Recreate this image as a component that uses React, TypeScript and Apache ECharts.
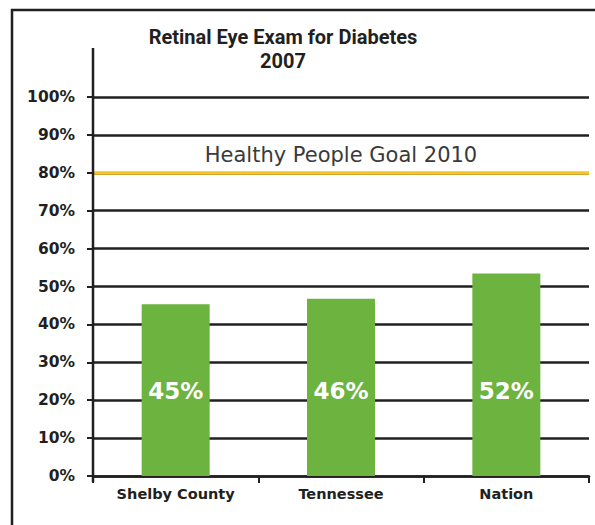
import React, { useEffect, useRef } from "react";
import * as echarts from "echarts";

const chartTitle = "Retinal Eye Exam for Diabetes";
const chartSubtitle = "2007";
const categories = ["Shelby County", "Tennessee", "Nation"];
const barValues = [45.3, 46.8, 53.4];
const barLabels = ["45%", "46%", "52%"];
const goalValue = 80;
const goalLabel = "Healthy People Goal 2010";
const yMin = 0;
const yMax = 100;
const yInterval = 10;

export default function App() {
  const ref = useRef<HTMLDivElement>(null);
  useEffect(() => {
    if (!ref.current) return;
    const chart = echarts.init(ref.current, null, { renderer: "svg" });
    const dark = "#231f20";
    chart.setOption({
      animation: false,
      backgroundColor: "#ffffff",
      grid: { left: 93, right: 6, top: 97, bottom: 49, containLabel: false },
      graphic: [
        {
          type: "rect",
          shape: { x: 12, y: 10, width: 640, height: 640 },
          style: { fill: "none", stroke: dark, lineWidth: 2.5 },
          z: 10,
        },
        {
          type: "line",
          shape: { x1: 93, y1: 48, x2: 93, y2: 482 },
          style: { stroke: dark, lineWidth: 2.5 },
          z: 10,
        },
        {
          type: "text",
          x: 283,
          y: 25,
          style: {
            text: chartTitle + "\n" + chartSubtitle,
            fontFamily: "Roboto, sans-serif",
            fontWeight: "bold",
            fontSize: 20,
            lineHeight: 24,
            fill: dark,
            align: "center",
            verticalAlign: "top",
          },
        },
      ],
      xAxis: {
        type: "category",
        data: categories,
        axisLine: { show: true, lineStyle: { color: dark, width: 2.5 } },
        axisTick: { show: true, interval: 0, length: 7, lineStyle: { color: dark, width: 2 } },
        axisLabel: {
          interval: 0,
          margin: 10,
          color: dark,
          fontFamily: "'DejaVu Sans', sans-serif",
          fontWeight: "bold",
          fontSize: 14.5,
        },
        splitLine: { show: false },
      },
      yAxis: {
        type: "value",
        min: yMin,
        max: yMax,
        interval: yInterval,
        axisLine: { show: false },
        axisTick: { show: true, length: 6, lineStyle: { color: dark, width: 2 } },
        axisLabel: {
          margin: 18,
          formatter: "{value}%",
          color: dark,
          fontFamily: "'DejaVu Sans', sans-serif",
          fontWeight: "bold",
          fontSize: 15.5,
        },
        splitLine: { show: true, lineStyle: { color: dark, width: 2.5 } },
      },
      series: [
        {
          type: "bar",
          data: barValues,
          barWidth: 68,
          itemStyle: { color: "#6db33f" },
          z: 3,
          label: {
            show: true,
            position: "insideBottom",
            distance: 74,
            formatter: (p: any) => barLabels[p.dataIndex],
            color: "#ffffff",
            fontFamily: "'DejaVu Sans', sans-serif",
            fontWeight: "bold",
            fontSize: 23,
          },
          markLine: {
            silent: true,
            symbol: "none",
            lineStyle: { color: "#f7c325", width: 3.5, type: "solid" },
            label: {
              show: true,
              position: "middle",
              distance: 7,
              formatter: goalLabel,
              color: "#3a3a3a",
              fontFamily: "'DejaVu Sans', sans-serif",
              fontWeight: "normal",
              fontSize: 21,
            },
            data: [{ yAxis: goalValue }],
            z: 5,
          },
        },
      ],
    });
    return () => chart.dispose();
  }, []);
  return (
    <div
      ref={ref}
      style={{ position: "fixed", left: 0, top: 0, width: 595, height: 525 }}
    />
  );
}
